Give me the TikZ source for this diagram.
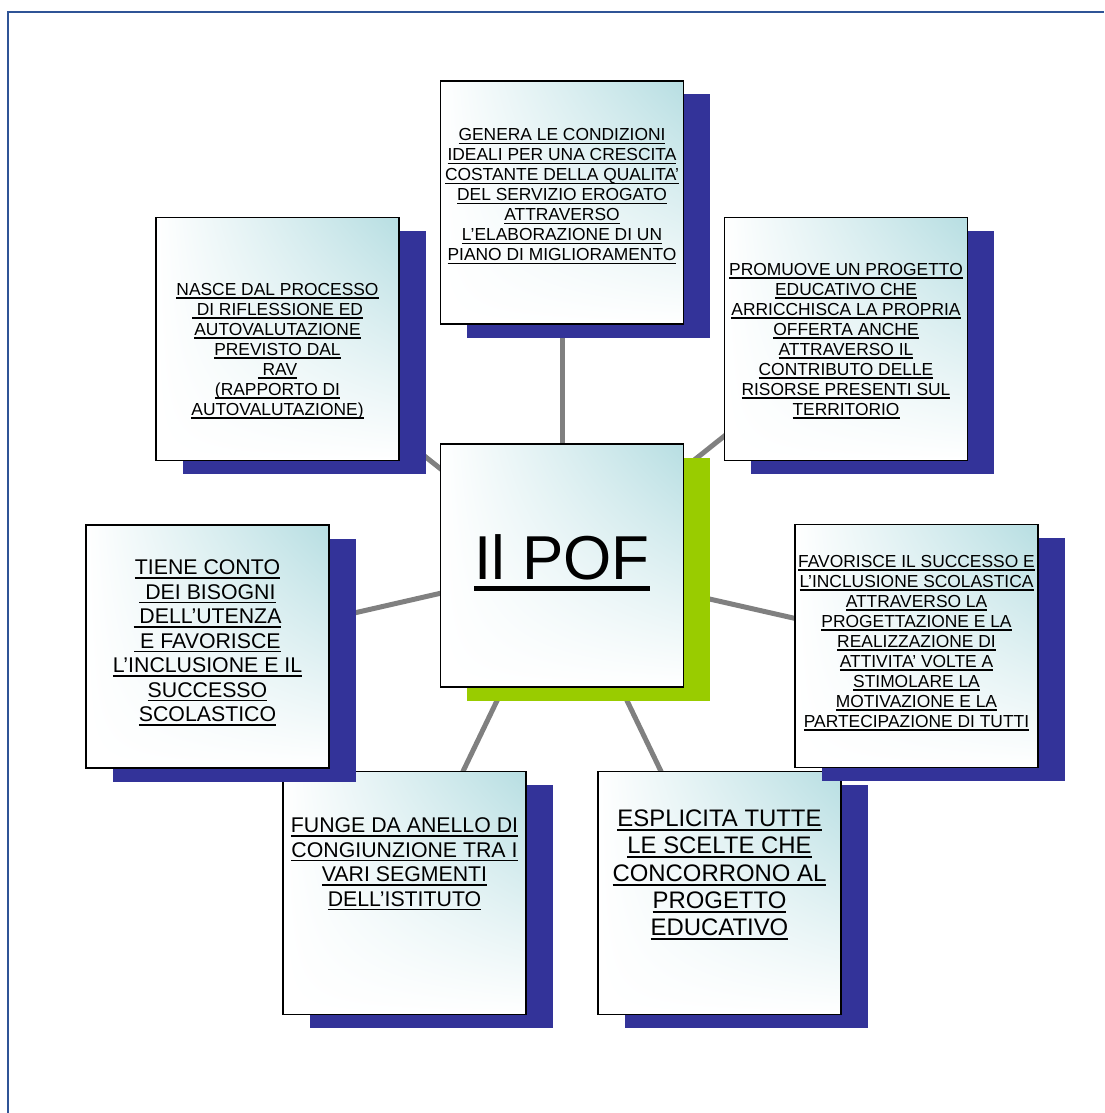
\documentclass[tikz,border=0pt]{standalone}
\usepackage{fontspec}
\setmainfont{Liberation Sans}
\usetikzlibrary{shadows,shadings}

\definecolor{shadowblue}{RGB}{51,51,153}
\definecolor{shadowgreen}{RGB}{153,204,0}
\definecolor{paleteal}{RGB}{183,222,226}
\definecolor{framecol}{RGB}{47,84,150}
\definecolor{linkgrey}{RGB}{128,128,128}

% underlined line of text: a rule the width of the text, just below the baseline
\newcommand\ulx[1]{\setbox0=\hbox{#1}\rlap{\rule[-0.19em]{\wd0}{0.08em}}\box0}

\pgfdeclarelayer{background}
\pgfsetlayers{background,main}

\begin{document}
\begin{tikzpicture}[x=1pt,y=-1pt,
  card/.style={draw=black, line width=1.8pt, minimum width=243pt, minimum height=243pt,
    inner sep=0pt, outer sep=0pt, shade,
    upper left=white, upper right=paleteal, lower left=white, lower right=white},
  blueshadow/.style={general shadow={fill=shadowblue, shadow xshift=26.5pt, shadow yshift=-13.5pt}},
  greenshadow/.style={general shadow={fill=shadowgreen, shadow xshift=26.5pt, shadow yshift=-13.5pt}},
  smalltxt/.style={align=center, inner sep=0pt, font=\fontsize{17.4}{20}\selectfont},
  midtxt/.style={align=center, inner sep=0pt, font=\fontsize{21.3}{24.5}\selectfont},
  bigtxt/.style={align=center, inner sep=0pt, font=\fontsize{23.9}{27.35}\selectfont},
  link/.style={draw=linkgrey, line width=5pt}]

\useasboundingbox (0,0) rectangle (1104,1113);

% page frame (left and top edges)
\draw[framecol, line width=2.2pt] (8,1113) -- (8,12) -- (1104,12);

% top card
\node[card, blueshadow] (top) at (562,202.5) {};
\node[smalltxt] (top-t) at (562,196.5) {\ulx{GENERA LE CONDIZIONI}\\ \ulx{IDEALI PER UNA CRESCITA}\\
  \ulx{COSTANTE DELLA QUALITA’}\\ \ulx{DEL SERVIZIO EROGATO}\\ \ulx{ATTRAVERSO}\\
  \ulx{L’ELABORAZIONE DI UN}\\ \ulx{PIANO DI MIGLIORAMENTO}};

% upper left card
\node[card, blueshadow] (nw) at (277.5,339) {};
\node[smalltxt] (nw-t) at (277.5,351) {\ulx{NASCE DAL PROCESSO}\\ \ulx{\ DI RIFLESSIONE ED}\\
  \ulx{AUTOVALUTAZIONE}\\ \ulx{PREVISTO DAL}\\ \ulx{\ RAV}\\ \ulx{(RAPPORTO DI}\\
  \ulx{AUTOVALUTAZIONE)}};

% upper right card
\node[card, blueshadow] (ne) at (846,339) {};
\node[smalltxt] (ne-t) at (846,341) {\ulx{PROMUOVE UN PROGETTO}\\ \ulx{EDUCATIVO CHE}\\
  \ulx{ARRICCHISCA LA PROPRIA}\\ \ulx{OFFERTA ANCHE}\\ \ulx{ATTRAVERSO IL}\\
  \ulx{CONTRIBUTO DELLE}\\ \ulx{RISORSE PRESENTI SUL}\\ \ulx{TERRITORIO}};

% central card
\node[card, greenshadow] (pof) at (562,565.5) {};
\node[anchor=base, inner sep=0pt, font=\fontsize{62}{70}\selectfont] (pof-t) at (562,579) {\ulx{Il POF}};

% lower left card
\node[card, blueshadow] (sw) at (404.5,893) {};
\node[midtxt] (sw-t) at (404.5,864) {\ulx{FUNGE DA ANELLO DI}\\ \ulx{CONGIUNZIONE TRA I}\\
  \ulx{VARI SEGMENTI}\\ \ulx{DELL’ISTITUTO}};

% lower right card
\node[card, blueshadow] (se) at (719.5,893) {};
\node[bigtxt] (se-t) at (719.5,875) {\ulx{ESPLICITA TUTTE}\\ \ulx{LE SCELTE CHE}\\
  \ulx{CONCORRONO AL}\\ \ulx{PROGETTO}\\ \ulx{EDUCATIVO}};

% left card
\node[card, blueshadow] (w) at (207.5,646.5) {};
\node[midtxt] (w-t) at (207.5,643) {\ulx{TIENE CONTO}\\ \ulx{\ DEI BISOGNI}\\
  \ulx{\ DELL’UTENZA}\\ \ulx{\ E FAVORISCE}\\ \ulx{L’INCLUSIONE E IL}\\
  \ulx{SUCCESSO}\\ \ulx{SCOLASTICO}};

% right card
\node[card, blueshadow] (e) at (916.5,646) {};
\node[smalltxt] (e-t) at (916.5,643) {\ulx{FAVORISCE IL SUCCESSO E}\\ \ulx{L’INCLUSIONE SCOLASTICA}\\
  \ulx{ATTRAVERSO LA}\\ \ulx{PROGETTAZIONE E LA}\\ \ulx{REALIZZAZIONE DI}\\
  \ulx{ATTIVITA’ VOLTE A}\\ \ulx{STIMOLARE LA}\\ \ulx{MOTIVAZIONE E LA}\\
  \ulx{PARTECIPAZIONE DI TUTTI}};

% spokes from the centre to every card
\begin{pgfonlayer}{background}
  \foreach \n in {top,nw,ne,w,e,sw,se}
    \draw[link] (pof.center) -- (\n.center);
\end{pgfonlayer}
\end{tikzpicture}
\end{document}
